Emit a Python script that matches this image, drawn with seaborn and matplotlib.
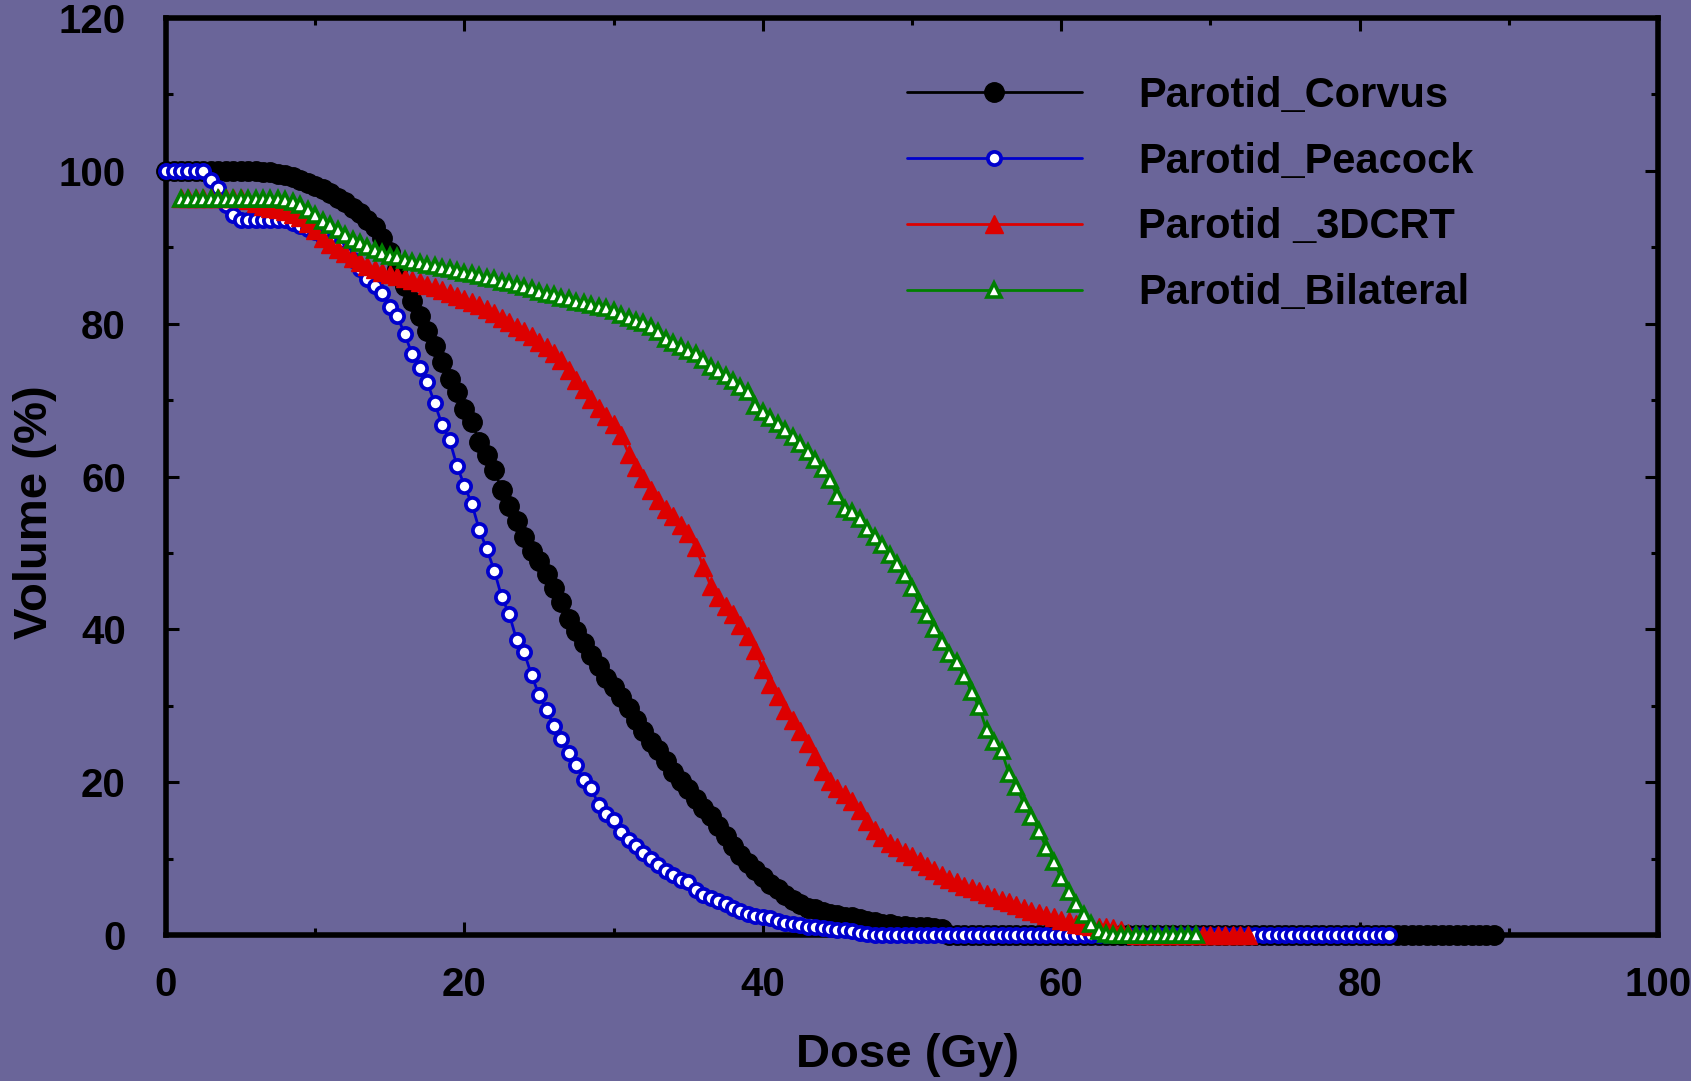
import numpy as np
import pandas as pd
import matplotlib
matplotlib.use("Agg")
from matplotlib import pyplot as plt
from matplotlib.ticker import MultipleLocator
import seaborn as sns

# DVH bins are 0.5 Gy wide, each curve lists volume (%) per bin from its first dose
DOSE_STEP = 0.5

corvus_start = 0.0
corvus_volume = [
    100, 100, 100, 100, 100, 100, 100, 100, 100, 100, 100, 100, 100,
    99.9, 99.8, 99.6, 99.4, 99.2, 98.8, 98.4, 98.0, 97.6, 97.1,
    96.5, 95.9, 95.2, 94.5, 93.6, 92.6, 91.2, 89.4, 87.2, 85.0,
    83.0, 81.0, 79.0, 77.1, 75.0, 72.8, 71.1, 68.8, 67.1, 64.5,
    62.8, 60.8, 58.3, 56.2, 54.2, 52.1, 50.2, 48.9, 47.3, 45.4,
    43.6, 41.4, 39.8, 38.2, 36.7, 35.2, 33.7, 32.4, 31.2, 29.7,
    28.1, 26.7, 25.2, 24.2, 22.8, 21.4, 20.2, 19.1, 17.8, 16.6,
    15.6, 14.3, 12.9, 11.7, 10.5, 9.4, 8.5, 7.6, 6.7, 6.0,
    5.3, 4.6, 4.0, 3.6, 3.35, 3.0, 2.8, 2.6, 2.4, 2.3,
    2.1, 1.9, 1.7, 1.5, 1.4, 1.25, 1.15, 1.1, 1.0, 1.0,
    0.9, 0.8,
    0, 0, 0, 0, 0, 0, 0, 0, 0, 0,
    0, 0, 0, 0, 0, 0, 0, 0, 0, 0,
    0, 0, 0, 0, 0, 0, 0, 0, 0, 0,
    0, 0, 0, 0, 0, 0, 0, 0, 0, 0,
    0, 0, 0, 0, 0, 0, 0, 0, 0, 0,
    0, 0, 0, 0, 0, 0, 0, 0, 0, 0,
    0, 0, 0, 0, 0, 0, 0, 0, 0, 0,
    0, 0, 0, 0,
]

peacock_start = 0.0
peacock_volume = [
    100, 100, 100, 100, 100, 100,
    98.8, 97.7, 95.5, 94.2, 93.6,
    93.6, 93.6, 93.6, 93.6, 93.6, 93.6,
    93.2, 92.8, 92.4, 92.0, 91.4, 90.7, 90.0, 89.2, 88.3, 87.2,
    85.9, 84.9, 84.0, 82.2, 81.0, 78.6, 76.0, 74.2, 72.4, 69.6,
    66.8, 64.8, 61.4, 58.8, 56.4, 53.0, 50.5, 47.7, 44.2, 42.0,
    38.6, 37.0, 34.0, 31.4, 29.5, 27.3, 25.6, 23.8, 22.2, 20.3,
    19.2, 17.0, 15.9, 15.0, 13.5, 12.5, 11.6, 10.8, 10.0, 9.2,
    8.4, 7.8, 7.2, 6.9, 5.9, 5.3, 4.8, 4.5, 4.0, 3.5,
    3.1, 2.8, 2.5, 2.4, 2.2, 1.9, 1.6, 1.4, 1.3, 1.1,
    1.0, 0.9, 0.8, 0.7, 0.6, 0.5, 0.3, 0.1,
    0, 0, 0, 0, 0, 0, 0, 0, 0, 0,
    0, 0, 0, 0, 0, 0, 0, 0, 0, 0,
    0, 0, 0, 0, 0, 0, 0, 0, 0, 0,
    0, 0, 0, 0, 0, 0, 0, 0, 0, 0,
    0, 0, 0, 0, 0, 0, 0, 0, 0, 0,
    0, 0, 0, 0, 0, 0, 0, 0, 0, 0,
    0, 0, 0, 0, 0, 0, 0, 0, 0, 0,
]

crt_start = 1.0
crt_volume = [
    96.5, 96.5, 96.5, 96.5, 96.5, 96.5, 96.5, 96.5, 96.5,
    96.2, 95.8, 95.4, 95.2, 95.0, 94.7, 94.4, 94.0, 93.2, 92.2,
    91.2, 90.4, 89.8, 89.2, 88.6,
    88.1, 87.6, 87.2, 86.8, 86.5, 86.3, 86.0, 85.7, 85.4, 85.1,
    84.8, 84.4, 84.0, 83.6, 83.3, 82.9, 82.5, 81.9, 81.4, 80.8,
    80.2, 79.6, 79.0, 78.4, 77.6, 76.9, 76.2, 75.3, 74.0, 72.7,
    71.4, 70.2, 69.0, 67.9, 66.9, 65.4, 63.0, 61.3, 59.8, 58.3,
    56.9, 55.8, 54.8, 53.6, 52.6, 50.8, 48.2, 45.7, 44.3, 43.1,
    42.0, 40.6, 39.2, 37.3, 34.8, 32.9, 31.3, 29.5, 28.1, 26.7,
    25.1, 23.4, 21.5, 20.1, 19.2, 18.4, 17.5, 16.4, 14.9, 13.7,
    12.8, 12.1, 11.5, 10.9, 10.3, 9.7, 9.1, 8.5, 7.8, 7.3,
    6.9, 6.4, 6.1, 5.8, 5.4, 5.0, 4.6, 4.3, 3.9, 3.5,
    3.2, 2.9, 2.6, 2.3, 2.0, 1.8, 1.5,
    1.3, 1.2, 1.1, 1.0, 0.9, 0.6, 0.3,
    0, 0, 0, 0, 0, 0, 0, 0, 0, 0, 0, 0, 0, 0, 0, 0,
]

bilateral_start = 1.0
bilateral_volume = [
    96.3, 96.3, 96.3, 96.3, 96.3, 96.3, 96.3, 96.3, 96.3, 96.3, 96.3, 96.3, 96.3, 96.3,
    96.2, 95.9, 95.5, 94.9, 94.2, 93.5, 92.9, 92.3, 91.6, 91.0,
    90.5, 90.1, 89.6, 89.2, 88.9, 88.7, 88.4, 88.1, 87.9, 87.7,
    87.5, 87.3, 87.1, 86.9, 86.7, 86.5, 86.3, 86.0, 85.8, 85.5,
    85.3, 85.1, 84.8, 84.5, 84.2, 83.9, 83.7, 83.4, 83.2, 82.9,
    82.7, 82.4, 82.2, 82.0, 81.6, 81.2, 80.8, 80.4, 80.1, 79.6,
    78.9, 78.0, 77.5, 77.0, 76.4, 76.0, 75.2, 74.4, 73.8, 73.1,
    72.5, 71.7, 71.1, 69.2, 68.4, 67.6, 66.9, 66.1, 65.2, 64.3,
    63.2, 62.2, 61.0, 59.5, 57.4, 55.8, 55.3, 54.4, 53.2, 52.1,
    51.1, 49.8, 48.5, 47.1, 45.4, 43.3, 41.9, 40.1, 38.3, 36.8,
    35.7, 33.9, 31.8, 29.8, 26.8, 25.3, 24.1, 21.1, 19.4, 17.2,
    15.5, 13.6, 11.4, 9.6, 7.5, 5.7, 4.0, 2.6, 1.4, 0.5,
    0.1,
    0, 0, 0, 0, 0, 0, 0, 0, 0, 0, 0, 0,
]

labels = ["Parotid_Corvus", "Parotid_Peacock", "Parotid _3DCRT", "Parotid_Bilateral"]
starts = [corvus_start, peacock_start, crt_start, bilateral_start]
volumes = [corvus_volume, peacock_volume, crt_volume, bilateral_volume]

BG = "#6a6599"
styles = [
    dict(color="black", marker="o", markersize=14, markerfacecolor="black",
         markeredgecolor="black", markeredgewidth=1),
    dict(color="#0000cc", marker="o", markersize=9.5, markerfacecolor="white",
         markeredgecolor="#0000cc", markeredgewidth=2.7),
    dict(color="#dd0000", marker="^", markersize=13, markerfacecolor="#dd0000",
         markeredgecolor="#dd0000", markeredgewidth=1),
    dict(color="#007f00", marker="^", markersize=10, markerfacecolor="white",
         markeredgecolor="#007f00", markeredgewidth=2.6),
]

sns.set_style("ticks")
plt.rcParams["font.family"] = ["Liberation Sans", "DejaVu Sans"]
plt.rcParams["font.weight"] = "bold"
plt.rcParams["text.color"] = "black"
plt.rcParams["axes.labelcolor"] = "black"

fig = plt.figure(figsize=(16.91, 10.81), dpi=100)
fig.patch.set_facecolor(BG)
ax = fig.add_axes([0.0982, 0.1350, 0.8823, 0.8483])
ax.set_facecolor(BG)

for name, start, vol, st in zip(labels, starts, volumes, styles):
    df = pd.DataFrame({
        "dose": start + DOSE_STEP * np.arange(len(vol)),
        "volume": vol,
    })
    sns.lineplot(data=df, x="dose", y="volume", ax=ax, label=name,
                 errorbar=None, linewidth=2.0, clip_on=False, zorder=3, **st)

ax.set_xlim(0, 100)
ax.set_ylim(0, 120)
ax.xaxis.set_major_locator(MultipleLocator(20))
ax.xaxis.set_minor_locator(MultipleLocator(10))
ax.yaxis.set_major_locator(MultipleLocator(20))
ax.yaxis.set_minor_locator(MultipleLocator(10))

ax.tick_params(which="both", direction="in", top=True, right=True,
               width=2.2, color="black", labelcolor="black")
ax.tick_params(which="major", length=9.5, labelsize=29)
ax.tick_params(which="minor", length=5)
ax.tick_params(axis="x", which="major", pad=22)
ax.tick_params(axis="y", which="major", pad=29)

for sp in ax.spines.values():
    sp.set_linewidth(4)
    sp.set_color("black")

ax.set_xlabel("Dose (Gy)", fontsize=34, fontweight="bold", color="black")
ax.set_ylabel("Volume (%)", fontsize=34, fontweight="bold", color="black")
ax.xaxis.set_label_coords(0.497, -0.107)
ax.yaxis.set_label_coords(-0.073, 0.461)

leg = ax.legend(loc="upper left", bbox_to_anchor=(0.4966, 0.937), frameon=False,
                prop={"size": 30, "weight": "bold"}, handlelength=4.2,
                handletextpad=1.35, labelspacing=0.62, borderpad=0,
                borderaxespad=0, numpoints=1)
for t in leg.get_texts():
    t.set_color("black")

fig.savefig("out.png", dpi=100, facecolor=BG)
